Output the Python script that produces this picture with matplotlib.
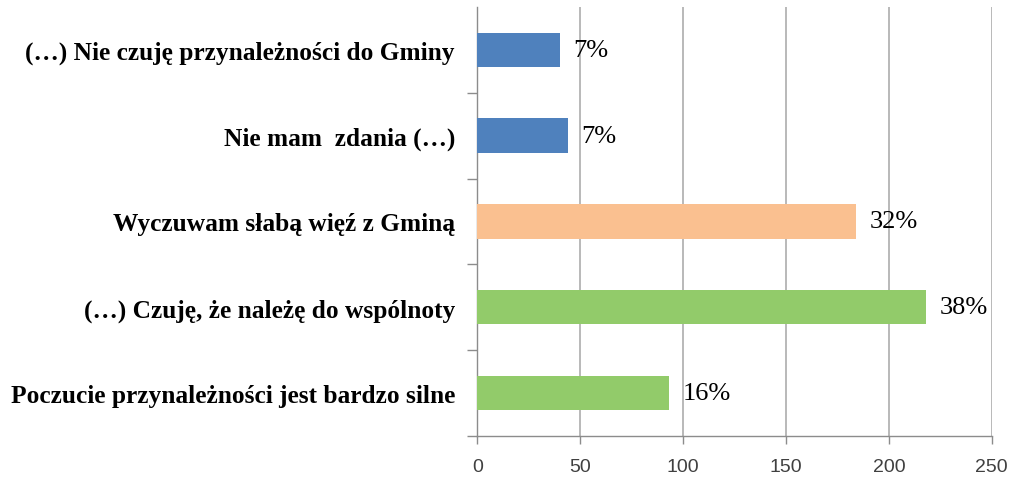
import matplotlib.pyplot as plt
import numpy as np

# data, top to bottom as in the picture
categories = ['(…) Nie czuję przynależności do Gminy',
              'Nie mam  zdania (…)',
              'Wyczuwam słabą więź z Gminą',
              '(…) Czuję, że należę do wspólnoty',
              'Poczucie przynależności jest bardzo silne']
values = [40, 44, 184, 218, 93]
pct_labels = ['7%', '7%', '32%', '38%', '16%']
colors = ['#4F81BD', '#4F81BD', '#FAC090', '#92CB6A', '#92CB6A']

fig = plt.figure(figsize=(10.11, 4.81), dpi=100)
ax = fig.add_axes([0.472, 0.0915, 0.509, 0.892])

y = np.arange(len(categories))[::-1]
bars = ax.barh(y, values, height=0.4, color=colors, zorder=3)

for b, lab in zip(bars, pct_labels):
    ax.annotate(lab, (b.get_width(), b.get_y() + b.get_height() / 2),
                xytext=(10, 0), textcoords='offset points',
                va='center', ha='left', fontsize=19,
                family='Liberation Serif', color='black')

ax.set_xlim(0, 250)
ax.set_ylim(-0.5, len(categories) - 0.5)
ax.set_xticks(np.arange(0, 251, 50))
ax.xaxis.grid(True, color='#B3B3B3', linewidth=1.3, zorder=0)

ax.set_yticks(y)
ax.set_yticklabels(categories, fontsize=18.3, fontweight='bold',
                   family='Liberation Serif')
ax.set_yticks(np.arange(-0.5, len(categories) - 1, 1.0), minor=True)
ax.tick_params(axis='y', which='major', length=0, pad=16)
ax.tick_params(axis='y', which='minor', length=7, color='#8C8C8C', width=1)
ax.tick_params(axis='x', length=6, color='#8C8C8C', width=1, pad=10,
               labelsize=14, labelcolor='#404040')
for lab in ax.get_xticklabels():
    lab.set_family('Liberation Sans')

for s in ['top', 'right']:
    ax.spines[s].set_visible(False)
for s in ['left', 'bottom']:
    ax.spines[s].set_color('#8C8C8C')
    ax.spines[s].set_linewidth(1)

fig.savefig('out.png', dpi=100)
